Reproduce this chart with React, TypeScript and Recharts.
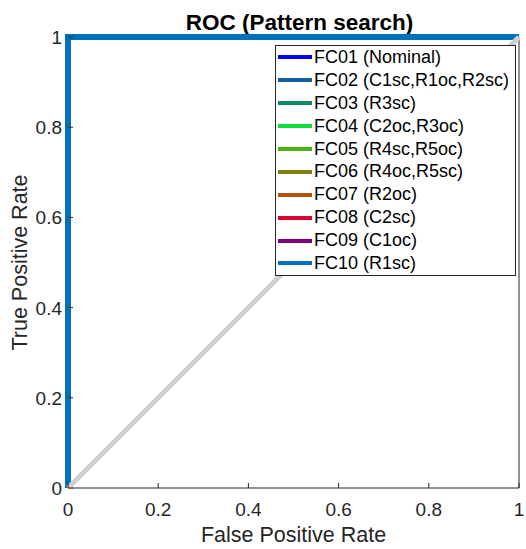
import { LineChart, Line, XAxis, YAxis, Legend, Label } from "recharts";

// ROC curves for each fault class (all identical: perfect classifier)
const curveNames = [
  "FC01 (Nominal)",
  "FC02 (C1sc,R1oc,R2sc)",
  "FC03 (R3sc)",
  "FC04 (C2oc,R3oc)",
  "FC05 (R4sc,R5oc)",
  "FC06 (R4oc,R5sc)",
  "FC07 (R2oc)",
  "FC08 (C2sc)",
  "FC09 (C1oc)",
  "FC10 (R1sc)",
];
const curveColors = [
  "#0000ff",
  "#14609c",
  "#0f8a6f",
  "#0ee03a",
  "#4db30c",
  "#808010",
  "#b5520a",
  "#dd0033",
  "#800078",
  "#0072bd",
];
const rocFpr = [0, 0, 1];
const rocTpr = [0, 1, 1];
const chanceFpr = [0, 1];
const chanceTpr = [0, 1];
const ticks = [0, 0.2, 0.4, 0.6, 0.8, 1];

const rocPoints = rocFpr.map((x, i) => ({ x, y: rocTpr[i] }));
const chancePoints = chanceFpr.map((x, i) => ({ x, y: chanceTpr[i] }));

const FONT = "Arial, 'Liberation Sans', Helvetica, sans-serif";
const INK = "#262626";

const fmt = (v: number) => (v === 0 || v === 1 ? String(v) : v.toFixed(1));

const BottomTick = ({ x, y, payload }: any) => (
  <g>
    <line x1={x} x2={x} y1={y} y2={y - 5} stroke={INK} />
    <text x={x} y={y + 28} textAnchor="middle" fill={INK} fontSize={19} fontFamily={FONT}>
      {fmt(payload.value)}
    </text>
  </g>
);

const LeftTick = ({ x, y, payload }: any) => (
  <g>
    <line x1={x} x2={x + 5} y1={y} y2={y} stroke={INK} />
    <text x={x - 6} y={y + 7} textAnchor="end" fill={INK} fontSize={19} fontFamily={FONT}>
      {fmt(payload.value)}
    </text>
  </g>
);

const TopTick = ({ x, y }: any) => <line x1={x} x2={x} y1={y} y2={y + 5} stroke={INK} />;
const RightTick = ({ x, y }: any) => <line x1={x} x2={x - 5} y1={y} y2={y} stroke={INK} />;

const renderLegend = ({ payload }: any) => (
  <div
    style={{
      border: `1px solid ${INK}`,
      background: "#fff",
      padding: "0 6px 0 2px",
      fontFamily: FONT,
      fontSize: 18,
      color: "#000",
    }}
  >
    {(payload || [])
      .filter((p: any) => p.type !== "none")
      .map((p: any) => (
        <div key={p.value} style={{ display: "flex", alignItems: "center", height: 22.9, whiteSpace: "nowrap" }}>
          <span style={{ display: "inline-block", width: 34, height: 4, background: p.color, marginRight: 2 }} />
          <span>{p.value}</span>
        </div>
      ))}
  </div>
);

export default function App() {
  return (
    <div style={{ position: "absolute", left: 0, top: 0, background: "#fff" }}>
      <LineChart width={526} height={549} margin={{ top: 0, right: 0, bottom: 0, left: 0 }}>
        <XAxis
          xAxisId="b"
          dataKey="x"
          type="number"
          domain={[0, 1]}
          ticks={ticks}
          height={61}
          stroke={INK}
          tickLine={false}
          tickSize={0}
          tickMargin={0}
          tick={<BottomTick />}
        >
          <Label
            value="False Positive Rate"
            content={({ viewBox }: any) => (
              <text
                x={viewBox.x + viewBox.width / 2}
                y={542}
                textAnchor="middle"
                fill={INK}
                fontSize={21.5}
                fontFamily={FONT}
              >
                False Positive Rate
              </text>
            )}
          />
        </XAxis>
        <XAxis
          xAxisId="t"
          orientation="top"
          type="number"
          domain={[0, 1]}
          ticks={ticks}
          height={37}
          stroke={INK}
          tickLine={false}
          tickSize={0}
          tickMargin={0}
          tick={<TopTick />}
        >
          <Label
            value="ROC (Pattern search)"
            content={({ viewBox }: any) => (
              <text
                x={viewBox.x + viewBox.width / 2 + 6}
                y={30}
                textAnchor="middle"
                fill="#000"
                fontSize={22.5}
                fontWeight="bold"
                fontFamily={FONT}
              >
                ROC (Pattern search)
              </text>
            )}
          />
        </XAxis>
        <YAxis
          yAxisId="l"
          dataKey="y"
          type="number"
          domain={[0, 1]}
          ticks={ticks}
          width={68}
          stroke={INK}
          tickLine={false}
          tickSize={0}
          tickMargin={0}
          tick={<LeftTick />}
        >
          <Label
            value="True Positive Rate"
            content={({ viewBox }: any) => {
              const cy = viewBox.y + viewBox.height / 2;
              return (
                <text
                  x={27}
                  y={cy}
                  transform={`rotate(-90 27 ${cy})`}
                  textAnchor="middle"
                  fill={INK}
                  fontSize={21.5}
                  fontFamily={FONT}
                >
                  True Positive Rate
                </text>
              );
            }}
          />
        </YAxis>
        <YAxis
          yAxisId="r"
          orientation="right"
          type="number"
          domain={[0, 1]}
          ticks={ticks}
          width={7}
          stroke={INK}
          tickLine={false}
          tickSize={0}
          tickMargin={0}
          tick={<RightTick />}
        />
        {curveNames.map((name, i) => (
          <Line
            key={name}
            xAxisId="b"
            yAxisId="l"
            data={rocPoints}
            dataKey="y"
            name={name}
            stroke={curveColors[i]}
            strokeWidth={6}
            dot={false}
            activeDot={false}
            isAnimationActive={false}
            zIndex={700}
          />
        ))}
        <Line
          xAxisId="b"
          yAxisId="l"
          data={chancePoints}
          dataKey="y"
          name="chance"
          legendType="none"
          stroke="#d0d0d0"
          strokeWidth={5}
          dot={false}
          activeDot={false}
          isAnimationActive={false}
          zIndex={710}
        />
        <Legend
          layout="vertical"
          align="center"
          verticalAlign="middle"
          content={renderLegend}
          wrapperStyle={{ top: 45, left: 275, width: "auto", height: "auto" }}
        />
      </LineChart>
    </div>
  );
}
